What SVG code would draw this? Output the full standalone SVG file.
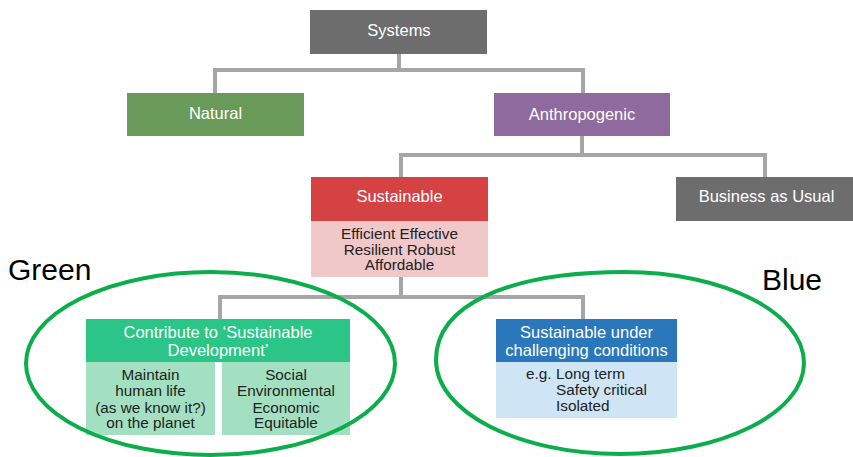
<svg xmlns="http://www.w3.org/2000/svg" width="853" height="457" viewBox="0 0 853 457">
  <style>
    text { font-family: "Liberation Sans", Arial, sans-serif; text-anchor: middle; }
    .hd { fill: #ffffff; font-size: 16.5px; }
    .bd { fill: #222222; font-size: 15.3px; }
    .lbl { fill: #000000; font-size: 30px; text-anchor: start; }
    .conn { fill: none; stroke: #a6a6a6; stroke-width: 4; stroke-linejoin: miter; }
    .ring { fill: none; stroke: #0cae4c; stroke-width: 4; }
  </style>

  <rect width="853" height="457" fill="#ffffff"/>

  <!-- tree connectors -->
  <g id="connectors">
    <path class="conn" d="M399 54 V70 M215 93 V70 H583 V93"/>
    <path class="conn" d="M582 136 V155 M401 177 V155 H765 V177"/>
    <path class="conn" d="M401 277 V297 M220 319 V297 H583 V319"/>
  </g>

  <g id="systems">
    <rect x="310" y="10" width="177" height="44" fill="#6d6d6d"/>
    <text class="hd" x="399" y="35.5">Systems</text>
  </g>

  <g id="natural">
    <rect x="127" y="93" width="177" height="43" fill="#699a5a"/>
    <text class="hd" x="215.5" y="119">Natural</text>
  </g>

  <g id="anthropogenic">
    <rect x="494" y="93" width="176" height="43" fill="#8f6a9e"/>
    <text class="hd" x="582" y="119.5">Anthropogenic</text>
  </g>

  <g id="sustainable">
    <rect x="311" y="177" width="177" height="44" fill="#d44244"/>
    <rect x="311" y="221" width="177" height="56" fill="#f1c8c9"/>
    <text class="hd" x="399.5" y="202">Sustainable</text>
    <text class="bd" x="399.5" y="239">Efficient Effective</text>
    <text class="bd" x="399.5" y="254.5">Resilient Robust</text>
    <text class="bd" x="399.5" y="270">Affordable</text>
  </g>

  <g id="business-as-usual">
    <rect x="676" y="177" width="177" height="44" fill="#6d6d6d"/>
    <text class="hd" x="766.5" y="202">Business as Usual</text>
  </g>

  <g id="sustainable-development">
    <rect x="86" y="319" width="264" height="43" fill="#2bc587"/>
    <rect x="86" y="362" width="129" height="73" fill="#a2e0c1"/>
    <rect x="222" y="362" width="128" height="73" fill="#a2e0c1"/>
    <text class="hd" x="218" y="338">Contribute to ‘Sustainable</text>
    <text class="hd" x="218" y="356">Development’</text>
    <text class="bd" x="150.5" y="380">Maintain</text>
    <text class="bd" x="150.5" y="396">human life</text>
    <text class="bd" x="150.5" y="412.5">(as we know it?)</text>
    <text class="bd" x="150.5" y="428">on the planet</text>
    <text class="bd" x="286" y="380">Social</text>
    <text class="bd" x="286" y="396">Environmental</text>
    <text class="bd" x="286" y="412.5">Economic</text>
    <text class="bd" x="286" y="428">Equitable</text>
  </g>

  <g id="challenging-conditions">
    <rect x="496" y="319" width="181" height="43" fill="#2b77bb"/>
    <rect x="496" y="362" width="181" height="56" fill="#cfe5f5"/>
    <text class="hd" x="586.5" y="338">Sustainable under</text>
    <text class="hd" x="586.5" y="356">challenging conditions</text>
    <text class="bd" x="526" y="379" style="text-anchor:start">e.g.</text>
    <text class="bd" x="556" y="379" style="text-anchor:start">Long term</text>
    <text class="bd" x="556" y="395" style="text-anchor:start">Safety critical</text>
    <text class="bd" x="556" y="411" style="text-anchor:start">Isolated</text>
  </g>

  <!-- hand-drawn style groupings -->
  <g id="green-group">
    <ellipse class="ring" cx="210.5" cy="363.5" rx="184.5" ry="91.5"/>
    <text class="lbl" x="8" y="280">Green</text>
  </g>

  <g id="blue-group">
    <path class="ring" d="M436 360 C436 305 508 272 625 272 C724 272 804 313 804 363 C804 413 722 454 620 454 C518 454 436 412 436 360 Z"/>
    <text class="lbl" x="762" y="290">Blue</text>
  </g>
</svg>
